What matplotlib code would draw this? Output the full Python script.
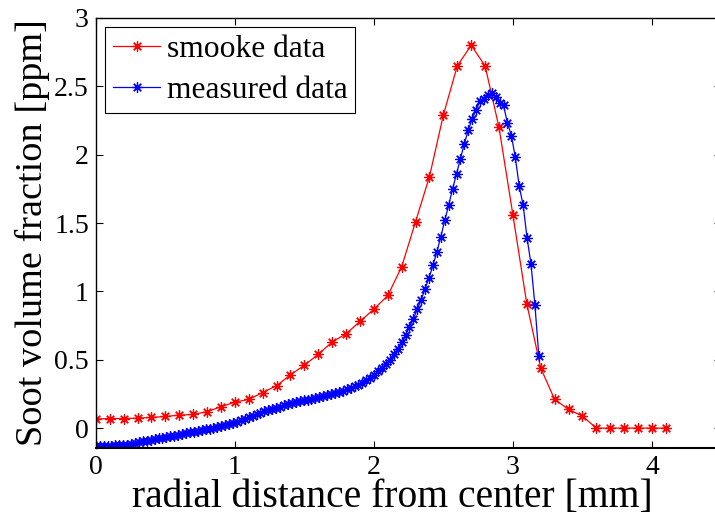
import matplotlib

matplotlib.use("Agg")

import matplotlib.pyplot as plt
import numpy as np

# smooke model profile, sampled every 0.1 mm
smooke_x = [0.0, 0.1, 0.2, 0.3, 0.4, 0.5, 0.6, 0.7, 0.8, 0.9,
            1.0, 1.1, 1.2, 1.3, 1.4, 1.5, 1.6, 1.7, 1.8, 1.9,
            2.0, 2.1, 2.2, 2.3, 2.4, 2.5, 2.6, 2.7, 2.8, 2.9,
            3.0, 3.1, 3.2, 3.3, 3.4, 3.5, 3.6, 3.7, 3.8, 3.9,
            4.0, 4.1]
smooke_y = [0.066, 0.07, 0.07, 0.073, 0.078, 0.085, 0.095, 0.10, 0.12, 0.156,
            0.19, 0.21, 0.26, 0.31, 0.39, 0.46, 0.54, 0.63, 0.69, 0.78,
            0.87, 0.97, 1.18, 1.51, 1.84, 2.29, 2.65, 2.80, 2.65, 2.20,
            1.56, 0.91, 0.44, 0.21, 0.137, 0.088, 0.0, 0.0, 0.0, 0.0,
            0.0, 0.0]

# measured profile, one value per camera pixel
measured_step = 0.0282
measured_y = [
    -0.130, -0.130, -0.130, -0.130, -0.128, -0.127, -0.126, -0.125, -0.120, -0.114,
    -0.108, -0.102, -0.097, -0.091, -0.085, -0.079, -0.073, -0.069, -0.064, -0.060,
    -0.055, -0.049, -0.044, -0.038, -0.032, -0.027, -0.021, -0.015, -0.009, -0.003,
    0.004, 0.011, 0.018, 0.025, 0.032, 0.040, 0.048, 0.057, 0.068, 0.080,
    0.092, 0.104, 0.113, 0.122, 0.131, 0.140, 0.149, 0.158, 0.167, 0.175,
    0.182, 0.189, 0.196, 0.203, 0.209, 0.214, 0.220, 0.226, 0.232, 0.239,
    0.246, 0.254, 0.262, 0.272, 0.283, 0.294, 0.306, 0.318, 0.330, 0.350,
    0.370, 0.390, 0.415, 0.440, 0.470, 0.500, 0.540, 0.580, 0.630, 0.680,
    0.740, 0.800, 0.870, 0.940, 1.020, 1.100, 1.190, 1.290, 1.400, 1.520,
    1.630, 1.750, 1.860, 1.970, 2.080, 2.180, 2.260, 2.330, 2.390, 2.410,
    2.440, 2.450, 2.420, 2.380, 2.360, 2.230, 2.140, 1.980, 1.770, 1.630,
    1.390, 1.200, 0.900, 0.530,
]
measured_x = measured_step * np.arange(len(measured_y))

y_ticks = [0, 0.5, 1, 1.5, 2, 2.5, 3]
y_tick_labels = ["0", "0.5", "1", "1.5", "2", "2.5", "3"]
x_ticks = [0, 1, 2, 3, 4]

plt.rcParams["font.family"] = ["Liberation Serif", "DejaVu Serif"]

fig = plt.figure(figsize=(7.15, 5.21), dpi=100)
ax = fig.add_axes([0.134, 0.140, 0.875, 0.8255])

star = (8, 2, 0)
ax.plot(smooke_x, smooke_y, color="#ff0000", linewidth=0.9, marker=star,
        markersize=7.5, markeredgewidth=0.9, label="smooke data")
ax.plot(measured_x, measured_y, color="#0000ff", linewidth=0.9, marker=star,
        markersize=7.5, markeredgewidth=0.9, label="measured data")

ax.set_xlim(0, 4.5)
ax.set_ylim(-0.146, 3.0)
ax.set_xticks(x_ticks)
ax.set_xticklabels([str(t) for t in x_ticks])
ax.set_yticks(y_ticks)
ax.set_yticklabels(y_tick_labels)
ax.tick_params(direction="in", length=5, width=0.8, labelsize=20,
               top=True, right=True, pad=5)
for spine in ax.spines.values():
    spine.set_linewidth(1.0)
ax.spines["bottom"].set_linewidth(1.5)

ax.set_xlabel("radial distance from center [mm]", fontsize=28.5, labelpad=0)
ax.xaxis.set_label_coords(0.474, -0.072, transform=ax.transAxes)
ax.xaxis.label.set_va("top")
ax.set_ylabel("Soot volume fraction [ppm]", fontsize=27.5, labelpad=3)

leg = ax.legend(loc="upper left", fontsize=22.7, frameon=True, fancybox=False,
                edgecolor="black", framealpha=1, handlelength=1.5,
                borderpad=0.25, labelspacing=0.37, handletextpad=0.2,
                borderaxespad=0.3)
leg.get_frame().set_linewidth(0.8)

fig.savefig("out.png", dpi=100)
